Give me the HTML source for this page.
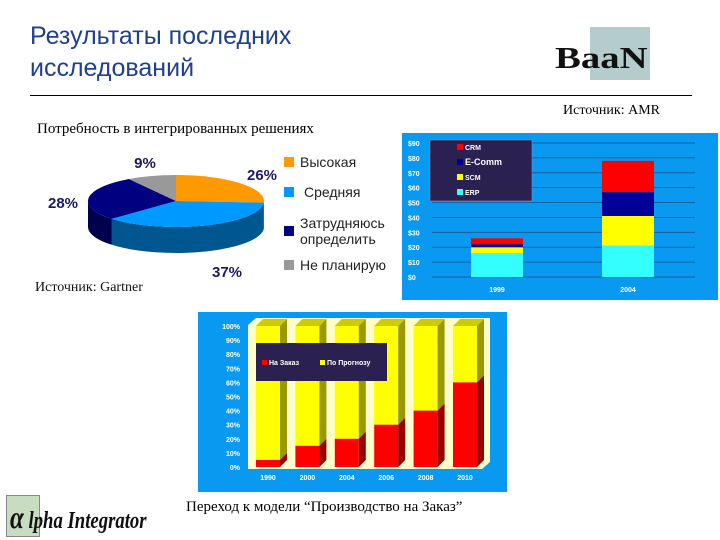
<!DOCTYPE html>
<html><head><meta charset="utf-8">
<style>
body{margin:0;width:720px;height:540px;background:#fff;position:relative;overflow:hidden;font-family:"Liberation Sans",sans-serif}
.abs{position:absolute}
.serif{font-family:"Liberation Serif",serif}
</style></head>
<body>
<div class="abs" style="left:30px;top:20px;font-size:25px;line-height:32px;color:#1f3f8f">Результаты последних<br>исследований</div>
<div class="abs" style="left:590px;top:27px;width:60px;height:53px;background:#b4cccc"></div>
<div class="abs serif" style="left:555px;top:40px;font-size:31px;font-weight:bold;letter-spacing:0px;color:#111;transform:scaleX(1.25);transform-origin:left">BaaN</div>
<div class="abs" style="left:30px;top:95px;width:662px;height:1px;background:#000"></div>
<div class="abs serif" style="left:563px;top:103px;font-size:14px">Источник: AMR</div>
<div class="abs serif" style="left:37px;top:121px;font-size:15px">Потребность в интегрированных решениях</div>
<div class="abs serif" style="left:35px;top:280px;font-size:14px;color:#111">Источник: Gartner</div>
<div class="abs serif" style="left:186px;top:499px;font-size:15px">Переход к модели “Производство на Заказ”</div>
<div class="abs" style="left:6px;top:495px;width:32px;height:40px;background:#c8dcc0;border:1px solid #888"></div>
<div class="abs serif" style="left:10px;top:499px;font-size:24px;font-weight:bold;font-style:italic;color:#111;transform:scaleX(0.78);transform-origin:left;white-space:nowrap"><span style="font-size:32px">α</span> lpha Integrator</div>

<svg class="abs" style="left:0;top:0" width="720" height="540" id="svg"></svg>

<script>
const NS="http://www.w3.org/2000/svg";
const svg=document.getElementById('svg');
function mk(tag,attrs,parent){const e=document.createElementNS(NS,tag);for(const k in attrs)e.setAttribute(k,attrs[k]);(parent||svg).appendChild(e);return e;}

// ---------- PIE ----------
const pieLabels=["Высокая","Средняя","Затрудняюсь определить","Не планирую"];
const pieValues=[26,37,28,9];
const pieColors=["#ff9900","#0099ff","#000080","#999999"];
const pieSide=["#b36b00","#00568f","#00004d","#666666"];
const cx=176,cy=201,rx=88,ry=26,dep=26;
const total=pieValues.reduce((a,b)=>a+b,0);
let ang=-Math.PI/2;
const slices=[];
pieValues.forEach((v,i)=>{const a0=ang,a1=ang+v/total*2*Math.PI;slices.push([a0,a1]);ang=a1;});
const P=(a,dy)=>[cx+rx*Math.cos(a),cy+ry*Math.sin(a)+dy];
slices.forEach((s,i)=>{
  const segs=[];
  let a0=Math.max(s[0],0),a1=Math.min(s[1],Math.PI);
  if(a1>a0)segs.push([a0,a1]);
  let b0=Math.max(s[0],2*Math.PI),b1=Math.min(s[1],3*Math.PI);
  if(b1>b0)segs.push([b0,b1]);
  segs.forEach(g=>{
    const p0=P(g[0],0),p1=P(g[1],0),p2=P(g[1],dep),p3=P(g[0],dep);
    const p=mk('path',{d:`M${p0}A${rx},${ry} 0 0 1 ${p1}L${p2}A${rx},${ry} 0 0 0 ${p3}Z`,fill:pieSide[i]});
    
    
  });
});
slices.forEach((s,i)=>{
  const p0=P(s[0],0),p1=P(s[1],0);const large=(s[1]-s[0])>Math.PI?1:0;
  const p=mk('path',{d:`M${cx},${cy}L${p0}A${rx},${ry} 0 ${large} 1 ${p1}Z`,fill:pieColors[i]});
  
  
});
const pieLabPos=[[262,180],[227,277],[63,208],[145,168]];
pieValues.forEach((v,i)=>{
  const t=mk('text',{x:pieLabPos[i][0],y:pieLabPos[i][1],'text-anchor':'middle','font-size':15,'font-weight':'bold',fill:'#1a1a66','font-family':'Liberation Sans'});
  t.textContent=v+'%';
  
  
});
const legY=[[167],[197],[228,244],[270]];
pieLabels.forEach((l,i)=>{
  const ys=legY[i];const sy=(ys.length>1?(ys[0]+ys[1])/2:ys[0])-10;
  const r=mk('rect',{x:284,y:sy,width:10,height:10,fill:pieColors[i]});
  
  
  const parts=i==2?["Затрудняюсь","определить"]:[l];
  parts.forEach((pt,j)=>{
    const t=mk('text',{x:i==1?304:300,y:ys[j],'font-size':14,fill:'#222','font-family':'Liberation Sans'});
    t.textContent=pt;
    
    
  });
});

// ---------- AMR stacked bar ----------
const amrCats=["1999","2004"];
const amrSeries=["ERP","SCM","E-Comm","CRM"];
const amrERP=[16,21];
const amrSCM=[4,20];
const amrEComm=[2,16];
const amrCRM=[4,21];
const amrTicks=["$0","$10","$20","$30","$40","$50","$60","$70","$80","$90"];
const amrColors=["#33ffff","#ffff00","#000099","#ff0000"];
const a=mk('rect',{x:402,y:133,width:316,height:167,fill:'#0a99f0'});


const ay=v=>277-v*(134/90);
const ax=i=>497+i*131;
amrTicks.forEach((t,i)=>{
  const y=ay(i*10);
  const l=mk('line',{x1:432,x2:695,y1:y,y2:y,stroke:'#1060a0','stroke-width':1});
  
  
  const tx=mk('text',{x:408,y:y+3,'font-size':7,'font-weight':'bold',fill:'#fff','font-family':'Liberation Sans'});
  tx.textContent=t;
  
  
});
const amrData=[amrERP,amrSCM,amrEComm,amrCRM];
amrCats.forEach((c,ci)=>{
  let base=0;
  amrData.forEach((s,si)=>{
    const r=mk('rect',{x:ax(ci)-26,y:ay(base+s[ci]),width:52,height:ay(base)-ay(base+s[ci]),fill:amrColors[si]});
    
    
    base+=s[ci];
  });
  const t=mk('text',{x:ax(ci),y:292,'text-anchor':'middle','font-size':7,'font-weight':'bold',fill:'#fff','font-family':'Liberation Sans'});
  t.textContent=c;
  
  
});
const lb=mk('rect',{x:430,y:140,width:102,height:61,fill:'#2a2150',stroke:'#8899cc','stroke-width':0.5});


[3,2,1,0].forEach((si,j)=>{
  const y=148+j*15;
  const r=mk('rect',{x:457,y:y-4,width:6,height:6,fill:amrColors[si]});
  
  
  const t=mk('text',{x:465,y:y+2,'font-size':si==2?9:7,'font-weight':'bold',fill:'#fff','font-family':'Liberation Sans'});
  t.textContent=amrSeries[si];
  
  
});

// ---------- Make-to-order 100% bar ----------
const mtoCats=["1990","2000","2004","2006","2008","2010"];
const mtoOrder=[5,15,20,30,40,60];
const mtoTicks=["0%","10%","20%","30%","40%","50%","60%","70%","80%","90%","100%"];
const mp=mk('rect',{x:198,y:312,width:309,height:180,fill:'#0a99f0'});


const pl=mk('path',{d:'M248,325 L256,318 L490,318 L490,462 L482,469 L248,469Z',fill:'#ffffcc'});


const my=v=>467-v*1.41;
const mx=i=>268+i*39.4;
mtoTicks.forEach((t,i)=>{
  const tx=mk('text',{x:240,y:my(i*10)+3,'text-anchor':'end','font-size':7,'font-weight':'bold',fill:'#fff','font-family':'Liberation Sans'});
  tx.textContent=t;
  
  
});
mtoCats.forEach((c,i)=>{
  const x0=mx(i)-12,w=24,d=7,v=mtoOrder[i];
  const top=my(100),mid=my(v),bot=my(0);
  const y1=mk('rect',{x:x0,y:top,width:w,height:mid-top,fill:'#ffff00'});
  
  
  const r1=mk('rect',{x:x0,y:mid,width:w,height:bot-mid,fill:'#ff0000'});
  
  
  const tp=mk('path',{d:`M${x0},${top}L${x0+d},${top-d}L${x0+w+d},${top-d}L${x0+w},${top}Z`,fill:'#cccc00'});
  
  
  const sy=mk('path',{d:`M${x0+w},${top}L${x0+w+d},${top-d}L${x0+w+d},${mid-d}L${x0+w},${mid}Z`,fill:'#999900'});
  
  
  const sr=mk('path',{d:`M${x0+w},${mid}L${x0+w+d},${mid-d}L${x0+w+d},${bot-d}L${x0+w},${bot}Z`,fill:'#990000'});
  
  
  const t=mk('text',{x:mx(i),y:480,'text-anchor':'middle','font-size':7,'font-weight':'bold',fill:'#fff','font-family':'Liberation Sans'});
  t.textContent=c;
  
  
});
const ml=mk('rect',{x:256,y:343,width:131,height:38,fill:'#2a2150'});


[["На Заказ","#ff0000",262],["По Прогнозу","#ffff00",320]].forEach(e=>{
  const r=mk('rect',{x:e[2],y:360,width:5,height:5,fill:e[1]});
  
  
  const t=mk('text',{x:e[2]+7,y:365,'font-size':7,'font-weight':'bold',fill:'#fff','font-family':'Liberation Sans'});
  t.textContent=e[0];
  
  
});
</script>
</body></html>
